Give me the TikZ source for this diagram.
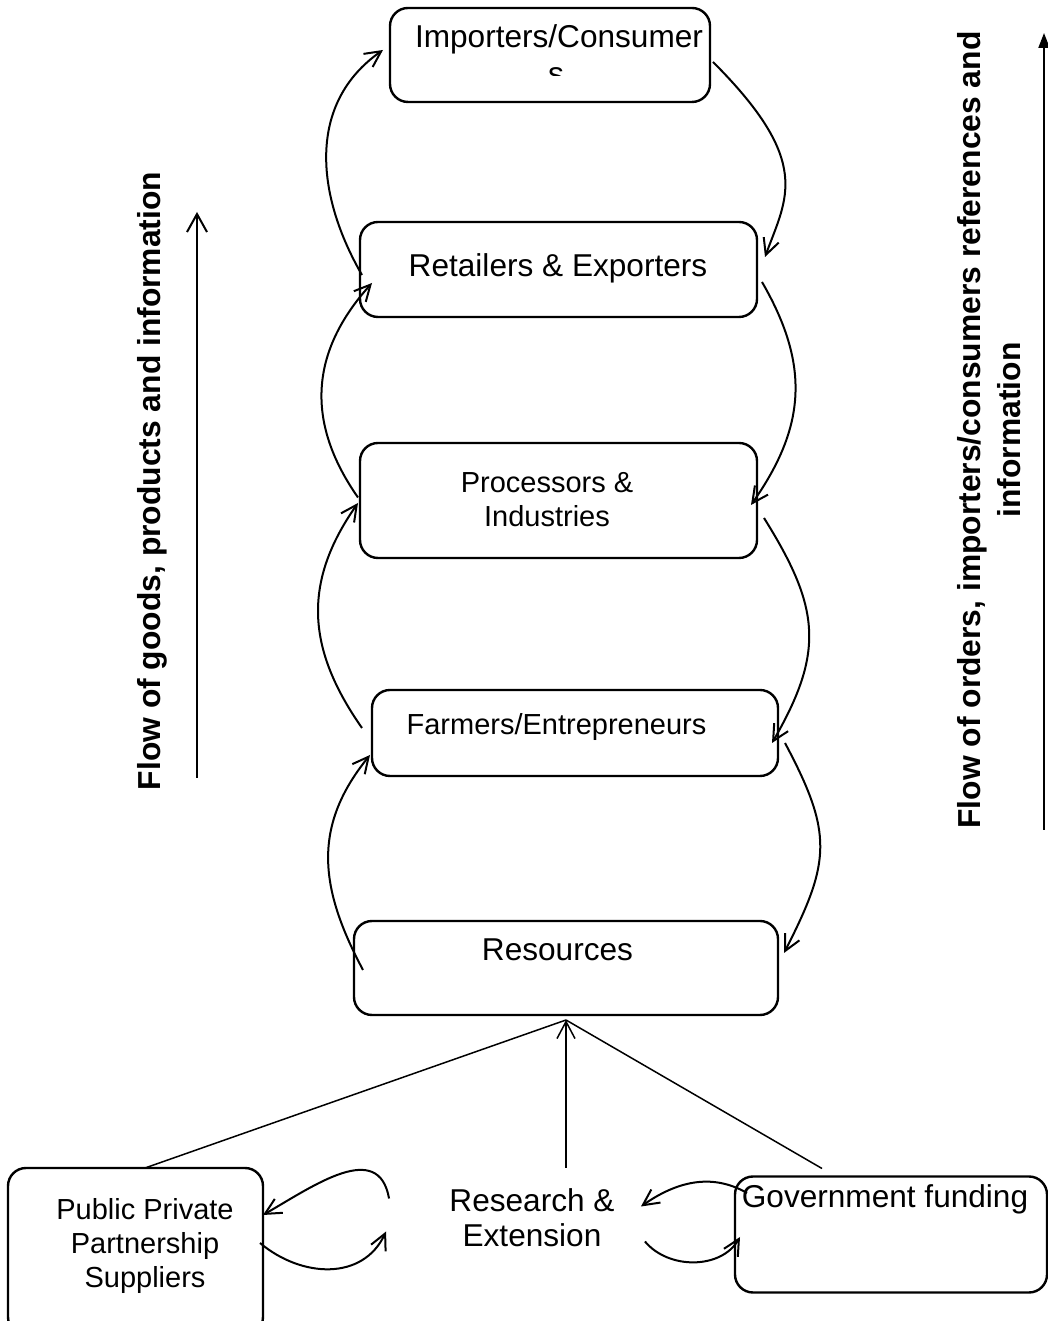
\documentclass[tikz,border=0pt]{standalone}
\usepackage{fontspec}
\setmainfont{Liberation Sans}
\usetikzlibrary{arrows.meta, positioning, calc}
\tikzset{
  stagebox/.style={draw, rounded corners=9pt, line width=1.2pt, inner sep=0pt, outer sep=0pt},
  bigtext/.style={font=\fontsize{15.8}{17.5}\selectfont, inner sep=0pt},
  smalltext/.style={font=\fontsize{14.5}{17}\selectfont, inner sep=0pt},
  flowlabel/.style={font=\bfseries\fontsize{15.9}{20}\selectfont, inner sep=0pt, rotate=90, align=center},
  linkarrow/.style={line width=1pt, -{Straight Barb[length=8pt,width=8pt]}},
  feedline/.style={line width=0.75pt}
}

\begin{document}
\begin{tikzpicture}[x=0.5pt, y=0.5pt]
  \useasboundingbox (0,0) rectangle (1048,1321);
  \clip (0,0) rectangle (1048,1321);

  % stages of the chain
  \node[stagebox, minimum width=160pt, minimum height=47pt] (importers) at (550,1266) {};
  \node[stagebox, minimum width=198.5pt, minimum height=47.5pt] (retailers) at (558.5,1051.5) {};
  \node[stagebox, minimum width=198.5pt, minimum height=57.5pt] (processors) at (558.5,820.5) {};
  \node[stagebox, minimum width=203pt, minimum height=43pt] (farmers) at (575,588) {};
  \node[stagebox, minimum width=212pt, minimum height=47pt] (resources) at (566,353) {};
  \node[stagebox, minimum width=127.5pt, minimum height=83.5pt] (ppp) at (135.5,69.5) {};
  \node[stagebox, minimum width=156pt, minimum height=58pt] (government) at (891,86.5) {};

  \begin{scope}
    \clip (391,1245) rectangle (709,1312);
    \node[bigtext, anchor=base] (importers-l1) at (559,1273) {Importers/Consumer};
    \node[bigtext, anchor=base] (importers-l2) at (556,1236.5) {s};
  \end{scope}
  \node[bigtext, anchor=base] (retailers-txt) at (558,1044) {Retailers \& Exporters};
  \node[smalltext, align=center] (processors-txt) at (547,821.8) {Processors \&\\Industries};
  \node[smalltext, anchor=base] (farmers-txt) at (556.5,586) {Farmers/Entrepreneurs};
  \node[bigtext, anchor=base] (resources-txt) at (557.5,360) {Resources};
  \node[smalltext, align=center] (ppp-txt) at (145,74.5) {Public Private\\Partnership\\Suppliers};
  \node[bigtext, align=center] (research) at (532,103.5) {Research \&\\Extension};
  \node[bigtext, anchor=base] (government-txt) at (885,113) {Government funding};

  % goods flow upwards on the left
  \draw[linkarrow] ([shift={(9,-2)}]resources.west) to[out=118, in=231, looseness=1.1] ([shift={(-2,-22)}]farmers.west);
  \draw[linkarrow] ([shift={(-10,5)}]farmers.west) to[out=125, in=235, looseness=1.1] ([shift={(-2,-2.5)}]processors.west);
  \draw[linkarrow] ([shift={(-2,3)}]processors.west) to[out=125, in=228, looseness=1.1] ([shift={(12,-13.5)}]retailers.west);
  \draw[linkarrow] ([shift={(2,-5.5)}]retailers.west) to[out=120, in=215, looseness=1.05] ([shift={(-7,5)}]importers.west);

  % orders flow downwards on the right
  \draw[linkarrow] ([shift={(3,-7)}]importers.east) to[out=-45, in=70, out looseness=1.8, in looseness=0.8] ([shift={(8,12.5)}]retailers.east);
  \draw[linkarrow] ([shift={(5,-12.5)}]retailers.east) to[out=-60, in=55, looseness=1.1] ([shift={(-6,-4.5)}]processors.east);
  \draw[linkarrow] ([shift={(7,-17.5)}]processors.east) to[out=-58, in=60, looseness=1.2] ([shift={(-6,-10)}]farmers.east);
  \draw[linkarrow] ([shift={(7,-10)}]farmers.east) to[out=-62, in=63, looseness=1.25] ([shift={(6,15)}]resources.east);

  % support for the resources
  \coordinate (apex) at ([yshift=-2.5pt]resources.south);
  \coordinate (research-top) at (566,153);
  \draw[feedline] ([xshift=4.75pt]ppp.north) -- (apex);
  \draw[feedline] ([shift={(-69,8)}]government.north) -- (apex);
  \draw[feedline, -{Straight Barb[length=8.5pt,width=9pt]}] (research-top) -- (apex);

  \draw[linkarrow] ([shift={(-60,19)}]research.west) to[out=100, in=30, looseness=1.2] ([shift={(0,36.5)}]ppp.east);
  \draw[linkarrow] ([shift={(-3,8.5)}]ppp.east) to[out=-40, in=245, looseness=1.1] ([shift={(-63,-14)}]research.west);
  \draw[linkarrow] ([shift={(12,41.5)}]government.west) to[out=150, in=35] ([shift={(26,11)}]research.east);
  \draw[linkarrow] ([shift={(30,-24)}]research.east) to[out=-50, in=240] ([shift={(5,-2.5)}]government.west);

  % flow labels
  \coordinate (goods-tail) at (197,543);
  \coordinate (goods-head) at (197,1109);
  \draw[line width=1pt, -{Straight Barb[length=9pt,width=10pt]}] (goods-tail) -- (goods-head);
  \node[flowlabel, anchor=base] (goods-label) at (160,840) {Flow of goods, products and information};

  \coordinate (orders-tail) at (1044,491);
  \coordinate (orders-head) at (1044,1288);
  \draw[line width=1pt, -{Triangle[length=7.5pt,width=5.5pt]}] (orders-tail) -- (orders-head);
  \node[flowlabel] (orders-label) at (989.5,891) {Flow of orders, importers/consumers references and\\information};
\end{tikzpicture}
\end{document}
